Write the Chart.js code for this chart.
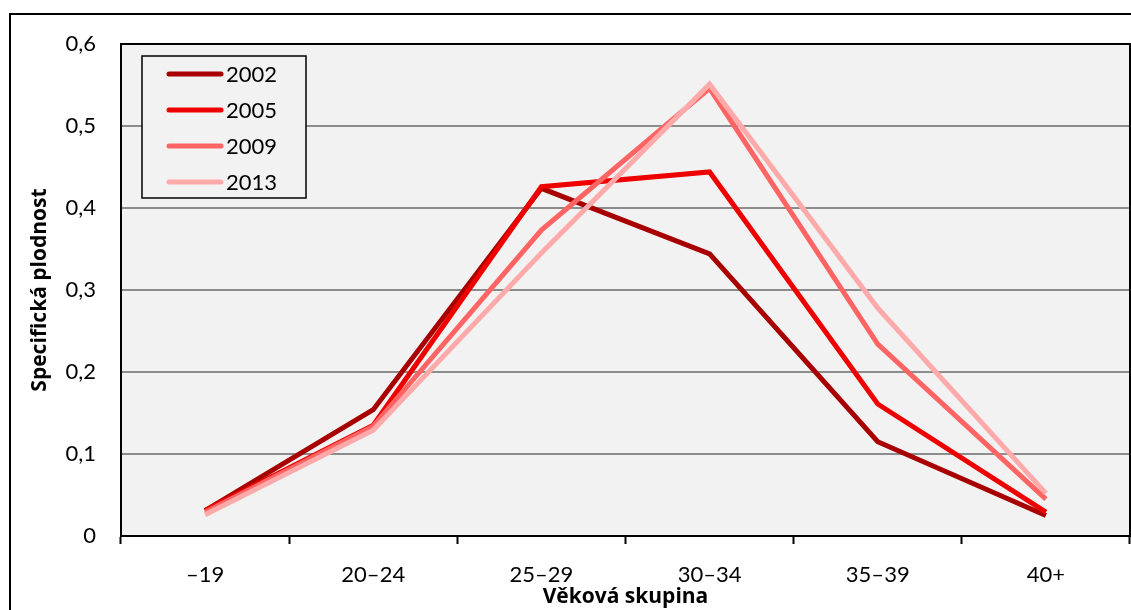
<!DOCTYPE html>
<html>
<head>
<meta charset="utf-8">
<script src="https://cdn.jsdelivr.net/npm/chart.js@4/dist/chart.umd.min.js"></script>
<style>
  html, body { margin: 0; padding: 0; background: #fff; }
  #wrap { width: 1131px; height: 610px; position: relative; }
</style>
</head>
<body>
<div id="wrap"><canvas id="chart"></canvas></div>
<script>
// age groups and fertility rates per year
const ageGroups = ["–19", "20–24", "25–29", "30–34", "35–39", "40+"];
const years = ["2002", "2005", "2009", "2013"];
const rates2002 = [0.031, 0.154, 0.424, 0.344, 0.115, 0.025];
const rates2005 = [0.031, 0.135, 0.426, 0.444, 0.161, 0.029];
const rates2009 = [0.029, 0.134, 0.373, 0.546, 0.234, 0.045];
const rates2013 = [0.026, 0.129, 0.345, 0.551, 0.278, 0.052];
const yTicks = [0, 0.1, 0.2, 0.3, 0.4, 0.5, 0.6];

const colors = ["#a80000", "#ee0000", "#ff6464", "#ffaaaa"];
const FONT = "Lato, 'Open Sans', sans-serif";
const TITLE_FONT = "'Open Sans', Lato, sans-serif";

// plot background, outer frame, plot border and a boxed legend
const framePlugin = {
  id: "frame",
  beforeDraw(chart) {
    const { ctx, chartArea: a } = chart;
    ctx.save();
    ctx.fillStyle = "#f2f2f2";
    ctx.fillRect(a.left, a.top, a.right - a.left, a.bottom - a.top);
    ctx.strokeStyle = "#000";
    ctx.lineWidth = 2;
    ctx.beginPath();
    ctx.moveTo(10, 700);
    ctx.lineTo(10, 14);
    ctx.lineTo(1140, 14);
    ctx.stroke();
    ctx.restore();
  },
  afterDraw(chart) {
    const { ctx, chartArea: a } = chart;
    ctx.save();
    ctx.strokeStyle = "#000";
    ctx.lineWidth = 2;
    ctx.strokeRect(a.left, a.top, a.right - a.left, a.bottom - a.top);

    // legend
    const bx = 142, by = 56, bw = 164, bh = 142;
    ctx.fillStyle = "#f2f2f2";
    ctx.fillRect(bx, by, bw, bh);
    ctx.lineWidth = 1.5;
    ctx.strokeRect(bx, by, bw, bh);
    ctx.font = "22px " + FONT;
    ctx.textBaseline = "middle";
    chart.data.datasets.forEach((ds, i) => {
      const y = by + 18 + i * 36;
      ctx.strokeStyle = ds.borderColor;
      ctx.lineWidth = 5;
      ctx.lineCap = "round";
      ctx.beginPath();
      ctx.moveTo(169, y);
      ctx.lineTo(221, y);
      ctx.stroke();
      ctx.fillStyle = "#000";
      ctx.fillText(ds.label, 226, y + 1);
    });
    ctx.restore();
  }
};

const allRates = [rates2002, rates2005, rates2009, rates2013];

new Chart(document.getElementById("chart"), {
  type: "line",
  data: {
    labels: ageGroups,
    datasets: years.map((yr, i) => ({
      label: yr,
      data: allRates[i],
      borderColor: colors[i],
      backgroundColor: colors[i],
      borderWidth: 5,
      pointRadius: 0,
      tension: 0,
      borderJoinStyle: "miter",
      order: years.length - i
    }))
  },
  options: {
    responsive: true,
    maintainAspectRatio: false,
    animation: false,
    layout: { padding: { top: 44, right: 1, left: 0, bottom: 0 } },
    plugins: {
      legend: { display: false },
      tooltip: { enabled: false }
    },
    scales: {
      x: {
        offset: true,
        afterFit(scale) { scale.height = 74; },
        grid: {
          offset: true,
          drawOnChartArea: false,
          drawTicks: true,
          tickLength: 8,
          tickWidth: 2,
          tickColor: "#000"
        },
        border: { color: "#000", width: 2 },
        ticks: {
          color: "#000",
          padding: 18,
          maxRotation: 0,
          font: { family: FONT, size: 22 }
        },
        title: {
          display: true,
          text: "Věková skupina",
          color: "#000",
          padding: { top: 0, bottom: 0 },
          font: { family: TITLE_FONT, size: 21, weight: "bold" }
        }
      },
      y: {
        min: 0,
        max: 0.6,
        afterFit(scale) { scale.width = 121; },
        afterBuildTicks(scale) { scale.ticks = yTicks.map(v => ({ value: v })); },
        grid: {
          drawTicks: false,
          color: ctx => ctx.tick.value === 0 || ctx.tick.value === 0.6 ? "rgba(0,0,0,0)" : "#8c8c8c",
          lineWidth: 2
        },
        border: { display: false },
        ticks: {
          color: "#000",
          padding: 25,
          font: { family: FONT, size: 22 },
          callback: v => v === 0 ? "0" : v.toFixed(1).replace(".", ",")
        },
        title: {
          display: true,
          text: "Specifická plodnost",
          color: "#000",
          padding: { top: 27, bottom: 0 },
          font: { family: TITLE_FONT, size: 21, weight: "bold" }
        }
      }
    }
  },
  plugins: [framePlugin]
});
</script>
</body>
</html>
